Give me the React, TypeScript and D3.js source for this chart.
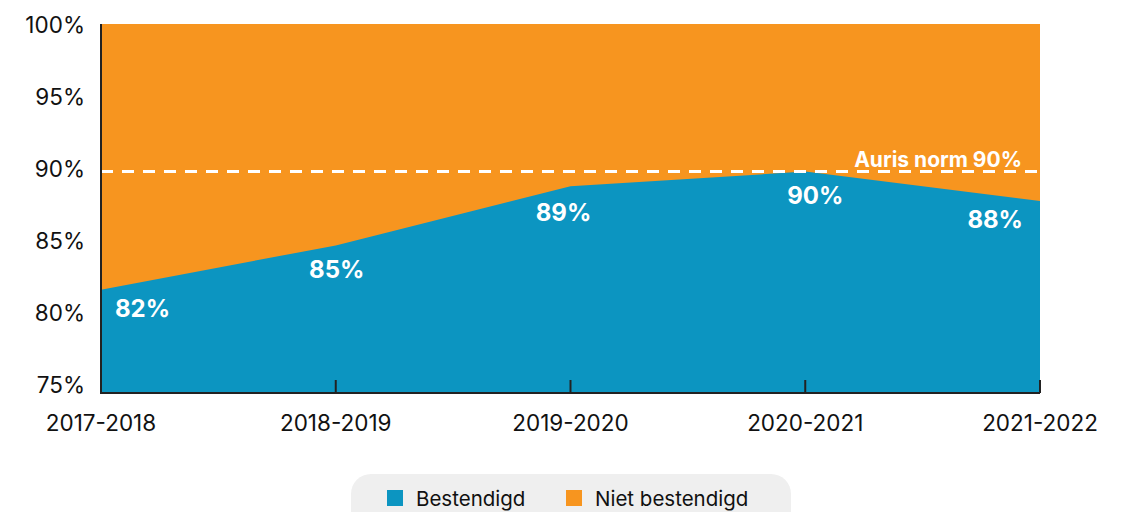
import React, { useEffect, useRef } from 'react';
import * as d3 from 'd3';

const years = ['2017-2018', '2018-2019', '2019-2020', '2020-2021', '2021-2022'];
const bestendigd = [82, 85, 89, 90, 88];
const yTicks = [75, 80, 85, 90, 95, 100];
const normValue = 90;
const normLabel = 'Auris norm 90%';
const legendItems = ['Bestendigd', 'Niet bestendigd'];

const BLUE = '#0c95c1';
const ORANGE = '#f7951f';
const FONT = 'Inter, "Noto Sans", sans-serif';

// small nudges for the value labels, as in the original
const labelDx = [14, 1, -7, 10, -17];
const labelDy = [27, 33, 35, 32, 27];

export default function App() {
  const svgRef = useRef<SVGSVGElement>(null);

  useEffect(() => {
    if (!svgRef.current) return;
    const svg = d3.select(svgRef.current);
    svg.selectAll('*').remove();

    const left = 101, right = 1040, top = 24, bottom = 393;

    const x = d3.scalePoint<string>().domain(years).range([left, right]);
    const y = d3.scaleLinear().domain([75, 100]).range([bottom, top]);
    // tick labels sit on a slightly tighter spacing than the ticks
    const yLabel = d3.scaleLinear().domain([75, 100]).range([bottom, top + 9]);

    // orange background (Niet bestendigd)
    svg.append('rect')
      .attr('x', left).attr('y', top)
      .attr('width', right - left).attr('height', bottom - top)
      .attr('fill', ORANGE);

    // blue area (Bestendigd)
    const area = d3.area<number>()
      .x((_, i) => x(years[i])!)
      .y0(y(75))
      .y1(d => y(d));

    svg.append('path')
      .datum(bestendigd)
      .attr('fill', BLUE)
      .attr('d', area);

    // norm line
    svg.append('line')
      .attr('x1', left).attr('x2', right)
      .attr('y1', y(normValue)).attr('y2', y(normValue))
      .attr('stroke', '#fff')
      .attr('stroke-width', 3)
      .attr('stroke-dasharray', '12,9');

    svg.append('text')
      .attr('x', right - 18).attr('y', y(normValue) - 5)
      .attr('text-anchor', 'end')
      .attr('fill', '#fff')
      .attr('font-family', FONT)
      .attr('font-weight', 700)
      .attr('font-size', 21)
      .text(normLabel);

    // value labels
    bestendigd.forEach((v, i) => {
      const last = i === years.length - 1;
      const anchor = i === 0 ? 'start' : last ? 'end' : 'middle';
      svg.append('text')
        .attr('x', x(years[i])! + labelDx[i])
        .attr('y', y(v) + labelDy[i])
        .attr('text-anchor', anchor)
        .attr('fill', '#fff')
        .attr('font-family', FONT)
        .attr('font-weight', 700)
        .attr('font-size', 24)
        .text(`${v}%`);
    });

    // axes
    const axisColor = '#222';
    svg.append('line')
      .attr('x1', left).attr('x2', left)
      .attr('y1', top).attr('y2', bottom)
      .attr('stroke', axisColor).attr('stroke-width', 2);
    svg.append('line')
      .attr('x1', left - 1).attr('x2', right)
      .attr('y1', bottom).attr('y2', bottom)
      .attr('stroke', axisColor).attr('stroke-width', 2);

    years.forEach((yr, i) => {
      if (i > 0) {
        svg.append('line')
          .attr('x1', x(yr)!).attr('x2', x(yr)!)
          .attr('y1', bottom).attr('y2', bottom - 13)
          .attr('stroke', axisColor).attr('stroke-width', 2);
      }
      svg.append('text')
        .attr('x', x(yr)!)
        .attr('y', bottom + 38)
        .attr('text-anchor', 'middle')
        .attr('fill', '#111')
        .attr('font-family', FONT)
        .attr('font-size', 22.5)
        .text(yr);
    });

    yTicks.forEach(t => {
      svg.append('text')
        .attr('x', 85)
        .attr('y', yLabel(t))
        .attr('text-anchor', 'end')
        .attr('fill', '#111')
        .attr('font-family', FONT)
        .attr('font-size', 22.5)
        .text(`${t}%`);
    });

    // legend
    const lg = svg.append('g');
    lg.append('rect')
      .attr('x', 351).attr('y', 474)
      .attr('width', 440).attr('height', 60)
      .attr('rx', 20)
      .attr('fill', '#efefef');
    const legendX = [387, 566];
    const legendColors = [BLUE, ORANGE];
    legendItems.forEach((name, i) => {
      lg.append('rect')
        .attr('x', legendX[i]).attr('y', 490)
        .attr('width', 16).attr('height', 16)
        .attr('fill', legendColors[i]);
      lg.append('text')
        .attr('x', legendX[i] + 29).attr('y', 506)
        .attr('fill', '#111')
        .attr('font-family', FONT)
        .attr('font-size', 20.5)
        .text(name);
    });
  }, []);

  return (
    <svg
      ref={svgRef}
      width={1141}
      height={512}
      style={{ position: 'absolute', left: 0, top: 0, background: '#fff' }}
    />
  );
}
